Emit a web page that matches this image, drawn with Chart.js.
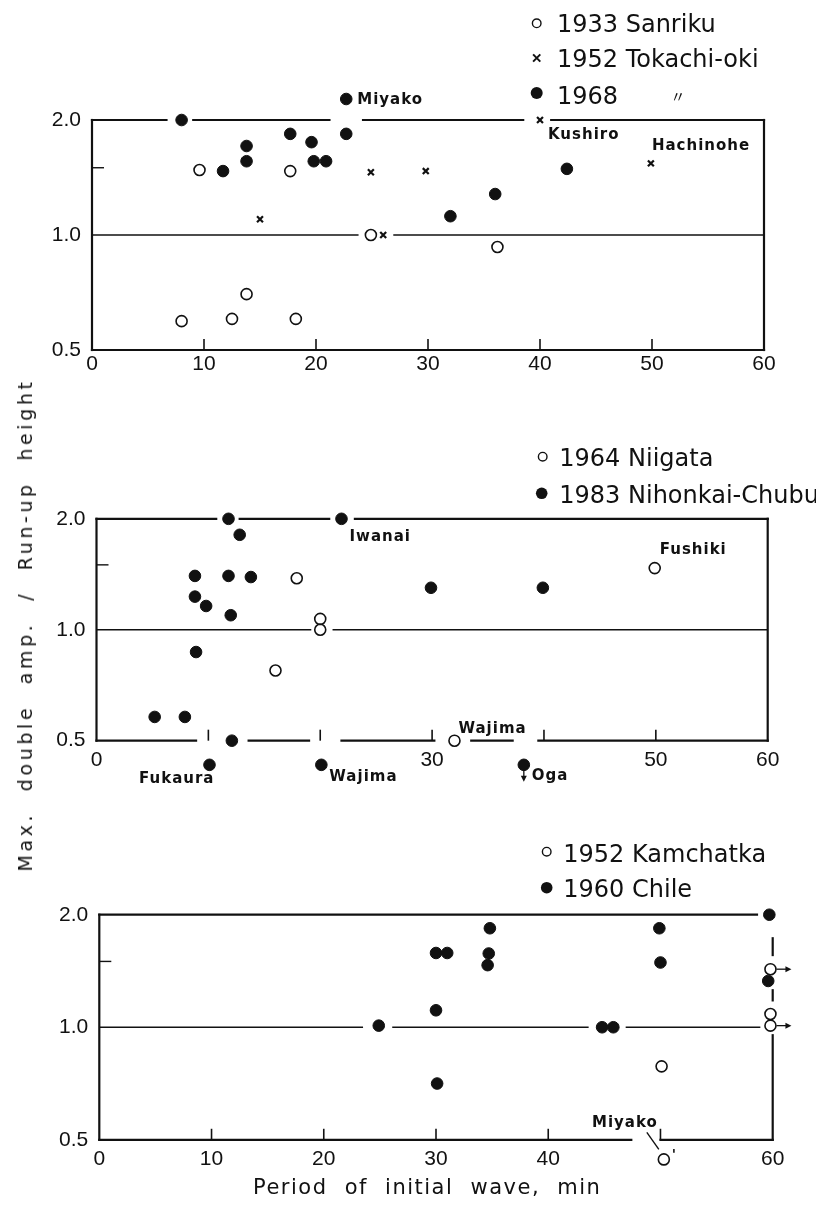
<!DOCTYPE html>
<html>
<head>
<meta charset="utf-8">
<script src="https://cdn.jsdelivr.net/npm/chart.js@4.4.1/dist/chart.umd.min.js"></script>
<style>
html,body{margin:0;padding:0;background:#fff;}
body{width:816px;height:1217px;position:relative;overflow:hidden;}
.panel{position:absolute;left:0;width:816px;}
canvas{display:block;}
#ytitle{position:absolute;left:25px;top:625px;transform:translate(-50%,-50%) rotate(-90deg);white-space:nowrap;font:19px "DejaVu Sans";letter-spacing:3.6px;word-spacing:11px;color:#111;}
#xtitle{position:absolute;left:253px;top:1175px;white-space:nowrap;font:21px "DejaVu Sans";letter-spacing:1.5px;word-spacing:9px;color:#111;}
</style>
</head>
<body>
<div class="panel" style="top:0;height:412px"><canvas id="c1" width="816" height="412"></canvas></div>
<div class="panel" style="top:400px;height:400px"><canvas id="c2" width="816" height="400"></canvas></div>
<div class="panel" style="top:800px;height:417px"><canvas id="c3" width="816" height="417"></canvas></div>
<div id="ytitle">Max. double amp. / Run-up height</div>
<div id="xtitle">Period of initial wave, min</div>
<script>
// ---------------- DATA ----------------
const xTickValues = [0, 10, 20, 30, 40, 50, 60];
const yTickValues = [0.5, 1, 1.5, 2];
const yTickLabels = ['0.5', '1.0', '', '2.0'];
const p1XTickLabels = ['0', '10', '20', '30', '40', '50', '60'];
const p2XTickLabels = ['0', '', '', '30', '', '50', '60'];
const p3XTickLabels = ['0', '10', '20', '30', '40', '', '60'];

// Panel 1
const p1SeriesNames = ['1933 Sanriku', '1952 Tokachi-oki', '1968'];
const p1Sanriku1933Period = [8.0, 9.6, 12.5, 13.8, 17.7, 18.2, 24.9, 36.2];
const p1Sanriku1933Ratio  = [0.595, 1.48, 0.603, 0.70, 1.47, 0.603, 1.0, 0.93];
const p1Tokachi1952Period = [15.0, 24.9, 26.0, 29.8, 40.0, 49.9];
const p1Tokachi1952Ratio  = [1.10, 1.46, 1.0, 1.47, 2.0, 1.54];
const p1Event1968Period = [8.0, 11.7, 13.8, 13.8, 17.7, 19.6, 19.8, 20.9, 22.7, 22.7, 32.0, 36.0, 42.4];
const p1Event1968Ratio  = [2.0, 1.47, 1.71, 1.56, 1.84, 1.75, 1.56, 1.56, 1.84, 2.27, 1.12, 1.28, 1.49];
const p1SiteNames = ['Miyako', 'Kushiro', 'Hachinohe'];

// Panel 2
const p2SeriesNames = ['1964 Niigata', '1983 Nihonkai-Chubu'];
const p2Niigata1964Period = [16.0, 17.9, 20.0, 20.0, 32.0, 49.9];
const p2Niigata1964Ratio  = [0.775, 1.38, 1.07, 1.0, 0.5, 1.47];
const p2Nihonkai1983Period = [5.2, 7.9, 8.8, 8.8, 8.9, 9.8, 10.1, 11.8, 11.8, 12.0, 12.1, 12.8, 13.8, 20.1, 21.9, 29.9, 38.2, 39.9];
const p2Nihonkai1983Ratio  = [0.58, 0.58, 1.40, 1.23, 0.87, 1.16, 0.43, 2.0, 1.40, 1.095, 0.5, 1.81, 1.39, 0.43, 2.0, 1.30, 0.43, 1.30];
const p2SiteNames = ['Iwanai', 'Fukaura', 'Wajima', 'Wajima', 'Oga', 'Fushiki'];

// Panel 3
const p3SeriesNames = ['1952 Kamchatka', '1960 Chile'];
const p3Kamchatka1952Period = [50.1, 50.3, 59.8, 59.8, 59.8];
const p3Kamchatka1952Ratio  = [0.786, 0.443, 1.43, 1.085, 1.01];
const p3Chile1960Period = [24.9, 30.0, 30.0, 30.1, 31.0, 34.6, 34.7, 34.8, 44.8, 45.8, 49.9, 50.0, 59.6, 59.7];
const p3Chile1960Ratio  = [1.01, 1.58, 1.11, 0.707, 1.58, 1.466, 1.575, 1.84, 1.0, 1.0, 1.84, 1.49, 1.33, 2.0];
const p3SiteNames = ['Miyako'];

// ---------------- STYLES ----------------
const INK = '#111';
const STYLE = {
  open:   { pointStyle: 'circle', pointRadius: 5.5, pointBorderWidth: 1.6, pointBackgroundColor: 'rgba(255,255,255,0)', pointBorderColor: INK },
  filled: { pointStyle: 'circle', pointRadius: 5.8, pointBorderWidth: 1, pointBackgroundColor: INK, pointBorderColor: INK },
  cross:  { pointStyle: 'crossRot', pointRadius: 4.2, pointBorderWidth: 2.2, pointBackgroundColor: INK, pointBorderColor: INK }
};
const TICK_FONT = { family: '"Liberation Sans", Arial, sans-serif', size: 21 };
const LEGEND_FONT = '24px "DejaVu Sans"';
const NOTE_FONT = 'bold 15px "DejaVu Sans"';

const pts = (t, r) => t.map((v, i) => ({ x: v, y: r[i] }));
const ds = (label, t, r, kind) => Object.assign({ label, data: pts(t, r), showLine: false, clip: false, kind }, STYLE[kind]);

function segments(lo, hi, gaps) {
  const out = []; let a = lo;
  gaps.slice().sort((p, q) => p[0] - q[0]).forEach(([g0, g1]) => {
    if (g0 > a) out.push([a, g0]);
    a = Math.max(a, g1);
  });
  if (a < hi) out.push([a, hi]);
  return out;
}

function drawMarker(ctx, kind, x, y, r) {
  ctx.save();
  ctx.strokeStyle = INK; ctx.fillStyle = INK;
  if (kind === 'open') {
    ctx.lineWidth = 1.4; ctx.beginPath(); ctx.arc(x, y, r, 0, Math.PI * 2); ctx.stroke();
  } else if (kind === 'filled') {
    ctx.beginPath(); ctx.arc(x, y, r, 0, Math.PI * 2); ctx.fill();
  } else {
    ctx.lineWidth = 2; ctx.beginPath();
    ctx.moveTo(x - r, y - r); ctx.lineTo(x + r, y + r);
    ctx.moveTo(x + r, y - r); ctx.lineTo(x - r, y + r); ctx.stroke();
  }
  ctx.restore();
}

function arrowHead(ctx, x, y, dir) {
  ctx.beginPath();
  if (dir === 'right') { ctx.moveTo(x, y); ctx.lineTo(x - 6, y - 3); ctx.lineTo(x - 6, y + 3); }
  else { ctx.moveTo(x, y); ctx.lineTo(x - 3, y - 6); ctx.lineTo(x + 3, y - 6); }
  ctx.closePath(); ctx.fill();
}

function framePlugin(cfg) {
  return {
    id: 'frame' + cfg.id,
    beforeDatasetsDraw(chart) {
      const ctx = chart.ctx, xs = chart.scales.x, ys = chart.scales.y;
      const X = v => xs.getPixelForValue(v), Y = v => ys.getPixelForValue(v);
      ctx.save();
      ctx.strokeStyle = INK;
      const h = (val, gaps, lw, cap) => {
        ctx.lineWidth = lw; ctx.lineCap = cap;
        segments(0, 60, gaps).forEach(([a, b]) => { ctx.beginPath(); ctx.moveTo(X(a), Y(val)); ctx.lineTo(X(b), Y(val)); ctx.stroke(); });
      };
      const v = (xv, gaps, lw) => {
        ctx.lineWidth = lw; ctx.lineCap = 'square';
        segments(0.5, 2, gaps).forEach(([a, b]) => { ctx.beginPath(); ctx.moveTo(X(xv), Y(a)); ctx.lineTo(X(xv), Y(b)); ctx.stroke(); });
      };
      h(2, cfg.gaps.top, 2.2, 'square');
      h(1, cfg.gaps.mid, 1.3, 'butt');
      h(0.5, cfg.gaps.bottom, 2.2, 'square');
      v(0, [], 2.2);
      v(60, cfg.gaps.right, 2.2);
      // inner tick marks
      ctx.lineWidth = 1.6; ctx.lineCap = 'butt';
      xs.ticks.forEach(t => {
        if (t.value > 0 && t.value < 60) {
          ctx.beginPath(); ctx.moveTo(X(t.value), Y(0.5)); ctx.lineTo(X(t.value), Y(0.5) - 11); ctx.stroke();
        }
      });
      ctx.lineWidth = 1.4;
      ctx.beginPath(); ctx.moveTo(X(0), Y(1.5)); ctx.lineTo(X(0) + 12, Y(1.5)); ctx.stroke();
      ctx.restore();
    },
    afterDatasetsDraw(chart) {
      const ctx = chart.ctx;
      ctx.save();
      ctx.fillStyle = INK; ctx.strokeStyle = INK;
      // legend
      cfg.legend.forEach(e => {
        const d = chart.data.datasets[e.ds];
        drawMarker(ctx, d.kind, e.mx, e.my, e.r);
        ctx.font = LEGEND_FONT; ctx.letterSpacing = '0px';
        ctx.textAlign = 'left'; ctx.textBaseline = 'alphabetic';
        ctx.fillStyle = INK;
        ctx.fillText(d.label, e.tx, e.ty);
        if (e.ditto) {
          ctx.font = '15px "Noto Sans CJK JP"';
          ctx.textAlign = 'center'; ctx.textBaseline = 'middle';
          ctx.fillText('\u3003', e.ditto[0], e.ditto[1]);
        }
      });
      // site labels
      cfg.notes.forEach(n => {
        const el = chart.getDatasetMeta(n.ds).data[n.i];
        ctx.font = NOTE_FONT; ctx.letterSpacing = '1px';
        ctx.textAlign = n.align || 'left'; ctx.textBaseline = 'middle';
        ctx.fillText(n.text, el.x + n.dx, el.y + n.dy);
      });
      ctx.letterSpacing = '0px';
      // arrows
      (cfg.arrows || []).forEach(a => {
        const el = chart.getDatasetMeta(a.ds).data[a.i];
        ctx.lineWidth = 1.3;
        if (a.dir === 'right') {
          ctx.beginPath(); ctx.moveTo(el.x + 6, el.y); ctx.lineTo(el.x + 16, el.y); ctx.stroke();
          arrowHead(ctx, el.x + 21, el.y, 'right');
        } else {
          ctx.beginPath(); ctx.moveTo(el.x, el.y + 5); ctx.lineTo(el.x, el.y + 12); ctx.stroke();
          arrowHead(ctx, el.x, el.y + 17, 'down');
        }
      });
      // leader lines and prime marks
      (cfg.leaders || []).forEach(l => {
        const el = chart.getDatasetMeta(l.ds).data[l.i];
        ctx.lineWidth = 1.4;
        ctx.beginPath(); ctx.moveTo(el.x + l.from[0], el.y + l.from[1]); ctx.lineTo(el.x + l.to[0], el.y + l.to[1]); ctx.stroke();
        if (l.prime) {
          ctx.font = 'bold 14px "DejaVu Sans"'; ctx.textAlign = 'left'; ctx.textBaseline = 'middle';
          ctx.fillText("'", el.x + l.prime[0], el.y + l.prime[1]);
        }
      });
      ctx.restore();
    }
  };
}

function makeChart(canvasId, cfg) {
  return new Chart(document.getElementById(canvasId), {
    type: 'scatter',
    data: { datasets: cfg.datasets },
    options: {
      responsive: false,
      animation: false,
      events: [],
      layout: { padding: { left: 0, top: cfg.padTop, right: cfg.padRight, bottom: cfg.padBottom } },
      plugins: { legend: { display: false }, tooltip: { enabled: false }, title: { display: false } },
      scales: {
        x: {
          type: 'linear', min: 0, max: 60, position: { y: 0.5 },
          grid: { display: false, drawTicks: false }, border: { display: false },
          afterBuildTicks: s => { s.ticks = xTickValues.map(v => ({ value: v })); },
          ticks: {
            autoSkip: false, maxRotation: 0, minRotation: 0, padding: cfg.xPad, color: INK, font: TICK_FONT,
            callback: v => cfg.xLabels[xTickValues.indexOf(v)]
          },
          afterFit: s => { s.height = 0; }
        },
        y: {
          type: 'logarithmic', min: 0.4, max: 2.5, position: 'left',
          grid: { display: false, drawTicks: false }, border: { display: false },
          afterBuildTicks: s => { s.ticks = yTickValues.map(v => ({ value: v })); },
          ticks: {
            autoSkip: false, padding: 11, color: INK, font: TICK_FONT,
            callback: v => yTickLabels[yTickValues.indexOf(v)]
          },
          afterFit: s => { s.width = cfg.left; }
        }
      }
    },
    plugins: [framePlugin(cfg)]
  });
}

// ---------------- PANEL 1 ----------------
makeChart('c1', {
  id: 1, left: 92, padRight: 52, padTop: 83, padBottom: 25, xPad: 2, xLabels: p1XTickLabels,
  datasets: [
    ds(p1SeriesNames[0], p1Sanriku1933Period, p1Sanriku1933Ratio, 'open'),
    ds(p1SeriesNames[1], p1Tokachi1952Period, p1Tokachi1952Ratio, 'cross'),
    ds(p1SeriesNames[2], p1Event1968Period, p1Event1968Ratio, 'filled')
  ],
  gaps: { top: [[6.65, 9.04], [21.2, 24.2], [38.5, 41.0]], mid: [[23.8, 26.9]], bottom: [], right: [] },
  legend: [
    { ds: 0, mx: 536.7, my: 23.3, r: 4.3, tx: 557, ty: 32 },
    { ds: 1, mx: 536.7, my: 58, r: 3.6, tx: 557, ty: 67 },
    { ds: 2, mx: 536.7, my: 93, r: 6, tx: 557, ty: 104, ditto: [678, 96] }
  ],
  notes: [
    { ds: 2, i: 9, text: p1SiteNames[0], dx: 11, dy: 1 },
    { ds: 1, i: 4, text: p1SiteNames[1], dx: 8, dy: 15 },
    { ds: 1, i: 5, text: p1SiteNames[2], dx: 1, dy: -17 }
  ]
});

// ---------------- PANEL 2 ----------------
makeChart('c2', {
  id: 2, left: 96.5, padRight: 48.3, padTop: 83.1, padBottom: 22.1, xPad: 7, xLabels: p2XTickLabels,
  datasets: [
    ds(p2SeriesNames[0], p2Niigata1964Period, p2Niigata1964Ratio, 'open'),
    ds(p2SeriesNames[1], p2Nihonkai1983Period, p2Nihonkai1983Ratio, 'filled')
  ],
  gaps: { top: [[10.7, 12.8], [20.8, 23.1]], mid: [[19.2, 21.1]], bottom: [[8.9, 13.6], [19.0, 21.9], [30.2, 33.5], [37.2, 39.5]], right: [] },
  legend: [
    { ds: 0, mx: 542.7, my: 56.7, r: 4.3, tx: 559.3, ty: 66 },
    { ds: 1, mx: 541.7, my: 93.3, r: 5.8, tx: 559.3, ty: 103.3 }
  ],
  notes: [
    { ds: 1, i: 14, text: p2SiteNames[0], dx: 8, dy: 18 },
    { ds: 1, i: 6, text: p2SiteNames[1], dx: 5, dy: 14, align: 'right' },
    { ds: 1, i: 13, text: p2SiteNames[2], dx: 8, dy: 12 },
    { ds: 0, i: 4, text: p2SiteNames[3], dx: 4, dy: -12 },
    { ds: 1, i: 16, text: p2SiteNames[4], dx: 8, dy: 11 },
    { ds: 0, i: 5, text: p2SiteNames[5], dx: 5, dy: -18 }
  ],
  arrows: [{ ds: 1, i: 16, dir: 'down' }]
});

// ---------------- PANEL 3 ----------------
makeChart('c3', {
  id: 3, left: 99.3, padRight: 43.3, padTop: 78.5, padBottom: 41, xPad: 7, xLabels: p3XTickLabels,
  datasets: [
    ds(p3SeriesNames[0], p3Kamchatka1952Period, p3Kamchatka1952Ratio, 'open'),
    ds(p3SeriesNames[1], p3Chile1960Period, p3Chile1960Ratio, 'filled')
  ],
  gaps: { top: [[58.6, 60]], mid: [[23.5, 26.1], [43.6, 46.9], [58.9, 60]], bottom: [[47.4, 50.0]], right: [[0.952, 1.18], [1.256, 1.56], [1.73, 2.0]] },
  legend: [
    { ds: 0, mx: 546.7, my: 51.7, r: 4.3, tx: 563.3, ty: 61.7 },
    { ds: 1, mx: 546.7, my: 87.7, r: 5.8, tx: 563.3, ty: 97 }
  ],
  notes: [
    { ds: 0, i: 1, text: p3SiteNames[0], dx: -6, dy: -36, align: 'right' }
  ],
  arrows: [{ ds: 0, i: 2, dir: 'right' }, { ds: 0, i: 4, dir: 'right' }],
  leaders: [{ ds: 0, i: 1, from: [-17, -27], to: [-5, -10], prime: [8, -4] }]
});
</script>
</body>
</html>
